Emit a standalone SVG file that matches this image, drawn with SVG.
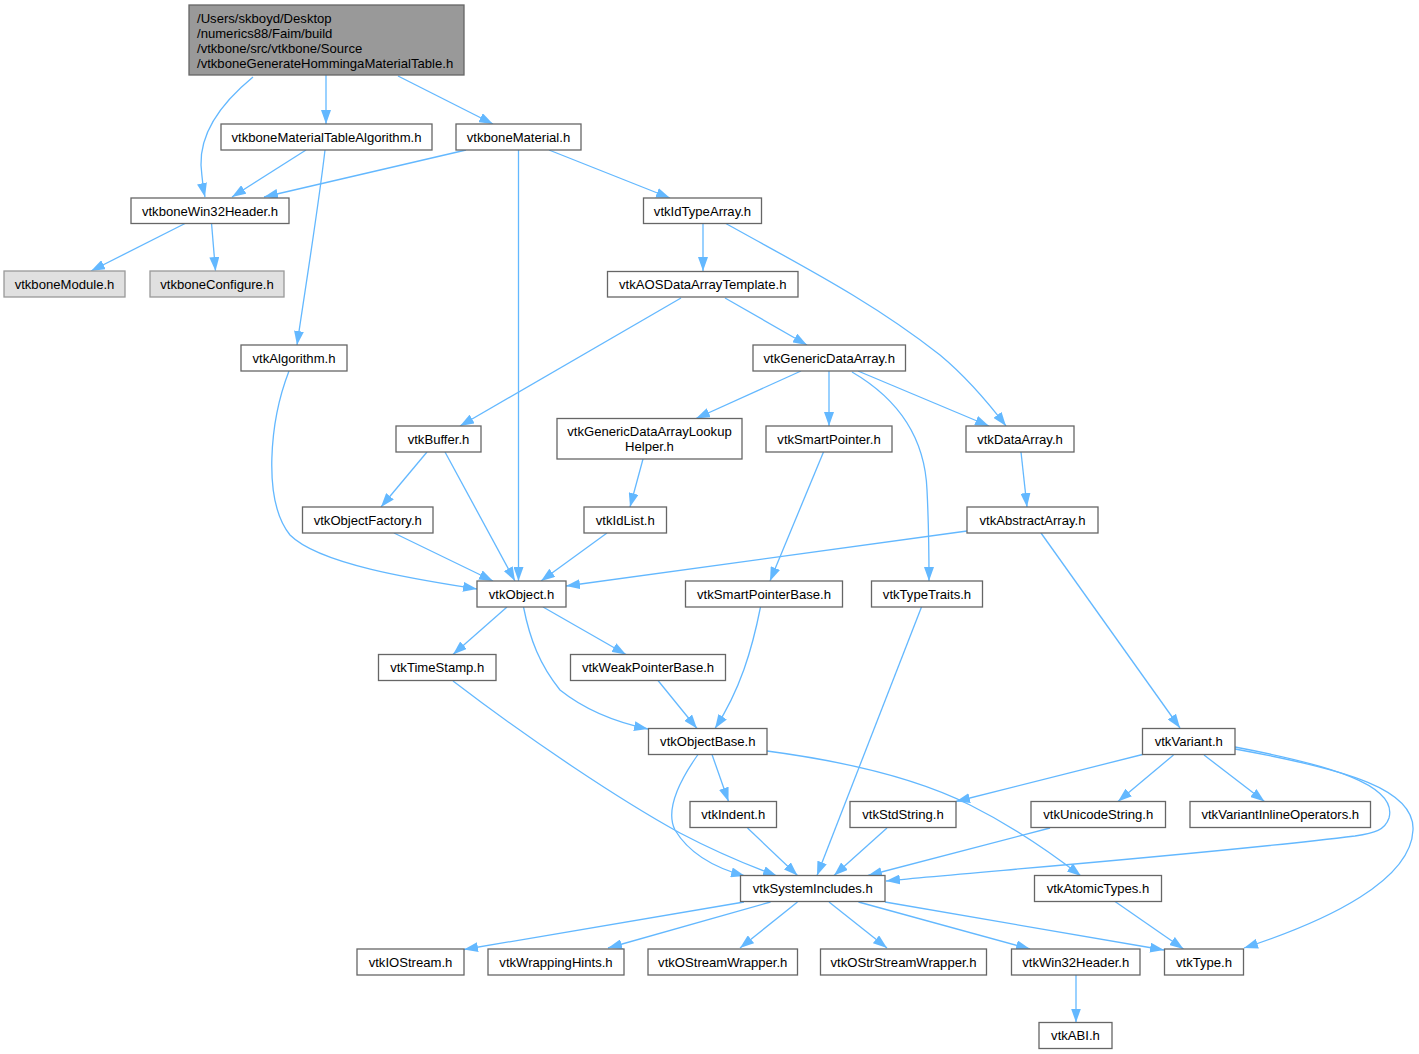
<svg xmlns="http://www.w3.org/2000/svg" width="1419" height="1054" viewBox="0 0 1419 1054">
<style>
.n rect{fill:#ffffff;stroke:#666666;stroke-width:1.3}
.g rect{fill:#e0e0e0;stroke:#999999;stroke-width:1.3}
.r rect{fill:#999999;stroke:#666666;stroke-width:1.3}
text{font-family:"Liberation Sans",Arial,Helvetica,sans-serif;font-size:13.1px;fill:#000000;text-anchor:middle}
.r text{text-anchor:start}
#edges path{fill:none;stroke:#63b8ff;stroke-width:1.3;marker-end:url(#ah)}
</style>
<defs>
<marker id="ah" viewBox="0 0 14 10" refX="14" refY="5" markerWidth="14" markerHeight="10" markerUnits="userSpaceOnUse" orient="auto">
<path d="M0,0 L14,5 L0,10 Z" fill="#63b8ff"/>
</marker>
</defs>
<rect width="1419" height="1054" fill="#ffffff"/>
<g id="edges">
<path d="M253,77 C 225,100 200,130 201,165 C 202,178 203,188 205,197"/>
<path d="M326,75 L326,124"/>
<path d="M398,76 L493,124"/>
<path d="M306,150 L232,197"/>
<path d="M325,150 C 318,210 305,290 297,345"/>
<path d="M466,150 L264,197"/>
<path d="M518.5,150 L518.5,581"/>
<path d="M549,150 L670,198"/>
<path d="M186,223 L91,271"/>
<path d="M211.5,223 L215.5,271"/>
<path d="M289,371 C 270,420 262,500 290,535 C 320,565 420,580 477,589"/>
<path d="M703,223 L703,271"/>
<path d="M725,223 C 800,265 870,300 940,355 C 970,380 990,405 1006,426"/>
<path d="M681,298 L460,426"/>
<path d="M725,298 L807,345"/>
<path d="M801,371 L696,418.5"/>
<path d="M829,371 L829,426"/>
<path d="M858,371 L989,426"/>
<path d="M852,372 C 900,400 925,440 927,490 C 929,530 929,560 929,581"/>
<path d="M643,459 L630,507"/>
<path d="M823.5,452 L770,581"/>
<path d="M1021,452 L1027,507"/>
<path d="M967,531 L566,586"/>
<path d="M1041,533 L1180,728"/>
<path d="M427,452 L381,507"/>
<path d="M445,452 L515,581"/>
<path d="M394,533 L493,581"/>
<path d="M607,533 L541,581"/>
<path d="M507,607 L453,654.5"/>
<path d="M543,607 L626,654.5"/>
<path d="M523.5,607 C 530,640 540,665 560,690 C 585,710 615,722 648,729"/>
<path d="M760.5,607 C 752,650 740,690 715,728.5"/>
<path d="M658,680.5 L697,728.5"/>
<path d="M453,681 C 530,740 620,800 680,833 C 720,854 750,866 777,876"/>
<path d="M712,754.5 L728.5,801.5"/>
<path d="M698,754.5 C 680,780 665,810 675,830 C 690,855 715,868 745,876"/>
<path d="M767,751 C 850,762 920,780 970,805 C 1010,825 1050,852 1081,876"/>
<path d="M747.5,828 L797.5,875.5"/>
<path d="M887,828 L834,875.5"/>
<path d="M921.5,607 L817,875.5"/>
<path d="M1142.5,754.5 L956,801.5"/>
<path d="M1173.5,755 L1118,801.5"/>
<path d="M1204,755 L1264.5,801.5"/>
<path d="M1235,747 C 1330,765 1398,785 1389,818 C 1385,830 1375,833 1355,836 C 1200,855 950,874 886,881"/>
<path d="M1235,749 C 1350,770 1415,790 1413,830 C 1411,880 1330,920 1244,948"/>
<path d="M1050,828 L868,875.5"/>
<path d="M744,902 L464,949.5"/>
<path d="M770.5,902 L608,948"/>
<path d="M797.5,902 L740,948"/>
<path d="M829,902 L887,948"/>
<path d="M858.5,902 L1030,949"/>
<path d="M885,902 L1164,950"/>
<path d="M1115,901.5 L1183.5,949"/>
<path d="M1076,975 L1076,1022.5"/>
</g>
<g id="root" class="r"><rect x="189" y="5" width="275" height="70"/>
<text x="197" y="22.5">/Users/skboyd/Desktop</text>
<text x="197" y="37.5">/numerics88/Faim/build</text>
<text x="197" y="52.5">/vtkbone/src/vtkbone/Source</text>
<text x="197" y="67.5">/vtkboneGenerateHommingaMaterialTable.h</text></g>
<g id="vtkboneMaterialTableAlgorithm" class="n"><rect x="221" y="124" width="211" height="26"/><text x="326.5" y="141.5">vtkboneMaterialTableAlgorithm.h</text></g>
<g id="vtkboneMaterial" class="n"><rect x="456" y="124" width="125" height="26"/><text x="518.5" y="141.5">vtkboneMaterial.h</text></g>
<g id="vtkboneWin32Header" class="n"><rect x="131" y="198" width="158" height="25.5"/><text x="210" y="215.5">vtkboneWin32Header.h</text></g>
<g id="vtkboneModule" class="g"><rect x="4" y="271" width="121" height="26"/><text x="64.5" y="288.5">vtkboneModule.h</text></g>
<g id="vtkboneConfigure" class="g"><rect x="150" y="271" width="134" height="26"/><text x="217" y="288.5">vtkboneConfigure.h</text></g>
<g id="vtkAlgorithm" class="n"><rect x="241" y="345" width="106" height="26"/><text x="294" y="362.5">vtkAlgorithm.h</text></g>
<g id="vtkIdTypeArray" class="n"><rect x="643.5" y="198" width="118" height="25.5"/><text x="702.5" y="215.5">vtkIdTypeArray.h</text></g>
<g id="vtkAOSDataArrayTemplate" class="n"><rect x="607.5" y="271.5" width="190.5" height="25.5"/><text x="702.75" y="289">vtkAOSDataArrayTemplate.h</text></g>
<g id="vtkGenericDataArray" class="n"><rect x="753" y="345" width="152.5" height="26"/><text x="829.25" y="362.5">vtkGenericDataArray.h</text></g>
<g id="vtkGenericDataArrayLookupHelper" class="n"><rect x="557" y="418.5" width="185" height="40.5"/><text x="649.5" y="436">vtkGenericDataArrayLookup</text><text x="649.5" y="451">Helper.h</text></g>
<g id="vtkSmartPointer" class="n"><rect x="766" y="426" width="126" height="26"/><text x="829" y="443.5">vtkSmartPointer.h</text></g>
<g id="vtkDataArray" class="n"><rect x="966" y="426" width="108" height="26"/><text x="1020" y="443.5">vtkDataArray.h</text></g>
<g id="vtkBuffer" class="n"><rect x="396" y="426" width="85" height="26"/><text x="438.5" y="443.5">vtkBuffer.h</text></g>
<g id="vtkObjectFactory" class="n"><rect x="302.5" y="507" width="130.5" height="26"/><text x="367.75" y="524.5">vtkObjectFactory.h</text></g>
<g id="vtkIdList" class="n"><rect x="584" y="507" width="82.5" height="26"/><text x="625.25" y="524.5">vtkIdList.h</text></g>
<g id="vtkAbstractArray" class="n"><rect x="967" y="507" width="131" height="26"/><text x="1032.5" y="524.5">vtkAbstractArray.h</text></g>
<g id="vtkObject" class="n"><rect x="477" y="581" width="89" height="26"/><text x="521.5" y="598.5">vtkObject.h</text></g>
<g id="vtkSmartPointerBase" class="n"><rect x="685.5" y="581" width="157" height="26"/><text x="764" y="598.5">vtkSmartPointerBase.h</text></g>
<g id="vtkTypeTraits" class="n"><rect x="871.5" y="581" width="111" height="26"/><text x="927" y="598.5">vtkTypeTraits.h</text></g>
<g id="vtkTimeStamp" class="n"><rect x="378.5" y="654.5" width="117.5" height="26"/><text x="437.25" y="672">vtkTimeStamp.h</text></g>
<g id="vtkWeakPointerBase" class="n"><rect x="570.5" y="654.5" width="155" height="26"/><text x="648" y="672">vtkWeakPointerBase.h</text></g>
<g id="vtkObjectBase" class="n"><rect x="648.5" y="728.5" width="118.5" height="26"/><text x="707.75" y="746">vtkObjectBase.h</text></g>
<g id="vtkVariant" class="n"><rect x="1142.5" y="728.5" width="92.5" height="26"/><text x="1188.75" y="746">vtkVariant.h</text></g>
<g id="vtkIndent" class="n"><rect x="690" y="801.5" width="86.5" height="26"/><text x="733.25" y="819">vtkIndent.h</text></g>
<g id="vtkStdString" class="n"><rect x="850" y="801.5" width="106" height="26"/><text x="903" y="819">vtkStdString.h</text></g>
<g id="vtkUnicodeString" class="n"><rect x="1031" y="801.5" width="134.5" height="26"/><text x="1098.25" y="819">vtkUnicodeString.h</text></g>
<g id="vtkVariantInlineOperators" class="n"><rect x="1190" y="801.5" width="180.5" height="26"/><text x="1280.25" y="819">vtkVariantInlineOperators.h</text></g>
<g id="vtkSystemIncludes" class="n"><rect x="740.5" y="875.5" width="144.5" height="26"/><text x="812.75" y="893">vtkSystemIncludes.h</text></g>
<g id="vtkAtomicTypes" class="n"><rect x="1034.5" y="875.5" width="127" height="26"/><text x="1098" y="893">vtkAtomicTypes.h</text></g>
<g id="vtkIOStream" class="n"><rect x="357" y="949" width="107" height="26"/><text x="410.5" y="966.5">vtkIOStream.h</text></g>
<g id="vtkWrappingHints" class="n"><rect x="488" y="949" width="136" height="26"/><text x="556" y="966.5">vtkWrappingHints.h</text></g>
<g id="vtkOStreamWrapper" class="n"><rect x="648" y="949" width="149.5" height="26"/><text x="722.75" y="966.5">vtkOStreamWrapper.h</text></g>
<g id="vtkOStrStreamWrapper" class="n"><rect x="820.5" y="949" width="166" height="26"/><text x="903.5" y="966.5">vtkOStrStreamWrapper.h</text></g>
<g id="vtkWin32Header" class="n"><rect x="1011.5" y="949" width="128.5" height="26"/><text x="1075.75" y="966.5">vtkWin32Header.h</text></g>
<g id="vtkType" class="n"><rect x="1164.5" y="949" width="79" height="26"/><text x="1204" y="966.5">vtkType.h</text></g>
<g id="vtkABI" class="n"><rect x="1039" y="1022.5" width="73" height="26"/><text x="1075.5" y="1040">vtkABI.h</text></g>
</svg>
